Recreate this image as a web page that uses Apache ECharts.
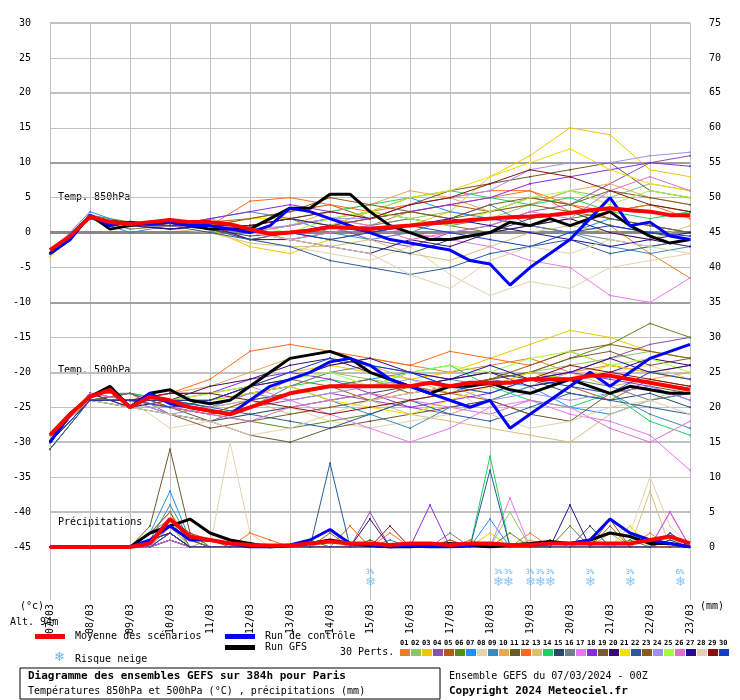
<!DOCTYPE html>
<html>
<head>
<meta charset="utf-8">
<script src="https://cdn.jsdelivr.net/npm/echarts@6/dist/echarts.min.js"></script>
<style>
html, body {margin: 0; padding: 0; background: #fff;}
#chart {width: 740px; height: 700px;}
</style>
</head>
<body>
<div id="chart"></div>
<script>
// dates on the time axis, one per 24h
const dates = ['07/03', '08/03', '09/03', '10/03', '11/03', '12/03', '13/03', '14/03', '15/03',
	'16/03', '17/03', '18/03', '19/03', '20/03', '21/03', '22/03', '23/03'];

const leftTicks = [30, 25, 20, 15, 10, 5, 0, -5, -10, -15, -20, -25, -30, -35, -40, -45];

// mean / control / GFS, every 12h
const mean850 = [-2.5, -0.5, 2.3, 1.5, 1.2, 1.5, 1.8, 1.5, 1.5, 1.2, 0.5, -0.2, 0, 0.3, 0.8, 0.7, 0.5,
	0.8, 1, 1.3, 1.5, 1.8, 2, 2.2, 2.3, 2.5, 2.8, 3.2, 3.5, 3.2, 3, 2.5, 2.5];
const ctrl850 = [-3, -1, 2.5, 1, 1.5, 1.2, 1.5, 1, 1, 0.5, 0, 1, 3.5, 3, 2, 1, 0,
	-1, -1.5, -2, -2.5, -4, -4.5, -7.5, -5, -3, -1, 2, 5, 1, 1.5, -0.5, -1];
const gfs850 = [-3, -1, 2.5, 0.5, 1, 1.5, 1.5, 1, 0.5, 0.5, 0.5, 2, 3.5, 3.5, 5.5, 5.5, 3,
	1, 0, -1, -1, -0.5, 0, 1.5, 1, 2, 1, 2, 3, 1, -0.5, -1.5, -1];

const mean500 = [-29, -26, -23.5, -22.5, -25, -23.5, -24, -25, -25.5, -26, -25, -24, -23, -22.5, -22, -22, -22,
	-22, -22, -21.5, -22, -21.5, -21.5, -21.5, -21, -21, -21, -20.5, -20.5, -21, -21.5, -22, -22.5];
const ctrl500 = [-30, -26, -23.5, -22.5, -25, -23, -24.5, -25, -25.5, -26, -24, -22, -21, -20, -18.5, -18, -19,
	-21, -22, -23, -24, -25, -24, -28, -26, -24, -22, -20, -22, -20, -18, -17, -16];
const gfs500 = [-30, -26, -23.5, -22, -25, -23, -22.5, -24, -24.5, -24, -22, -20, -18, -17.5, -17, -18, -20,
	-21, -22, -23, -22, -22, -21.5, -22.5, -23, -22, -21, -22, -23, -22, -22.5, -23, -23];

const meanPrec = [0, 0, 0, 0, 0, 0.5, 4, 1.5, 1, 0.5, 0.3, 0.2, 0.2, 0.5, 0.8, 0.5, 0.5,
	0.3, 0.5, 0.5, 0.3, 0.5, 0.5, 0.3, 0.3, 0.5, 0.5, 0.5, 0.5, 0.5, 1, 1.5, 0.5];
const ctrlPrec = [0, 0, 0, 0, 0, 1, 3, 1, 1, 0.5, 0, 0, 0.3, 1, 2.5, 0.5, 0.3,
	0, 0.2, 0, 0, 0.2, 0.5, 0.3, 0.2, 0.5, 0.5, 1, 4, 2, 1, 0.5, 0];
const gfsPrec = [0, 0, 0, 0, 0, 2, 3, 4, 2, 1, 0.5, 0, 0.2, 0.5, 1, 0.5, 0.2,
	0, 0, 0.3, 0.5, 0.3, 0, 0.3, 0.5, 0.8, 0.5, 1, 2, 1.5, 0.5, 0.5, 0];

// 30 perturbations, T850 and T500 every 24h
const pert850 = [
	[-3, 2.5, 1, 1.5, 1, 0, 1, 2, 1, 3, 4, 5, 6, 3, 1, -3, -6.5],
	[-3, 2, 1.5, 1, 2, 0.5, -1, 0, 1, 2, 3, 2, 4, 6, 5, 7, 6],
	[-3.5, 2, 0.5, 1, 0.5, -2, -3, -1, 0, 1, 3, 8, 11, 15, 14, 9, 8],
	[-3, 2.5, 1, 2, 1, 1, 2, 1, -1, -2, 0, 1, 3, 4, 7, 10, 11],
	[-3, 2, 1, 1, 1.5, 2, 3, 4, 2, 3, 4, 3, 5, 4, 2, 1, 0],
	[-3, 2.5, 1.5, 0.5, 1, 0, 1, 2, 3, 2, 1, 0, 1, 2, 3, 4, 3],
	[-3, 3, 1, 1, 0.5, -1, 0, 1, 3, 5, 3, 2, 1, 0, 2, 1, 0],
	[-3, 2, 1, 1.5, 1, -1, -2, -3, -4, -2, -6, -9, -7, -8, -5, -4, -3],
	[-3, 2, 0, 1, 2, 3, 2, 0, -1, 0, 2, 4, 1, 0, -2, -3, -2],
	[-3, 2.5, 1, 1.5, 1, 0, 1, 3, 4, 6, 5, 3, 4, 6, 7, 5, 4],
	[-3, 2, 1, 1, 0.5, -1, 0, 1, 2, 4, 6, 7, 8, 9, 10, 6, 5],
	[-3, 2, 1.5, 1, 1, 4.5, 5, 4, 3, 4, 5, 6, 6, 4, 3, 4, 2],
	[-3, 2, 1, 0.5, 0, -1.5, -2, -2, -1, -3, -4, -2, 0, 1, 0, -1, 1],
	[-3, 2.5, 1, 1, 1, 1, 2, 3, 4, 5, 6, 5, 4, 5, 3, 2, 3],
	[-3, 2, 1, 1.5, 0.5, -0.5, 0, -1, -2, -3, -1, 0, 2, 3, 1, 0, -1],
	[-3, 2, 0.5, 1, 1, 0, -1, 0, 1, 2, 1, 2, 1, 0, -1, -2, -1],
	[-3, 2.5, 1, 1, 1.5, 0, 1, 2, 1, 0, -1, -2, -4, -5, -9, -10, -6.5],
	[-3, 2, 1, 1, 2, 3, 4, 3, 2, 3, 4, 5, 7, 8, 9, 10, 9.5],
	[-3, 2, 1.5, 1, 1, 0, 0, 1, 2, 3, 2, 4, 5, 4, 6, 5, 4],
	[-3, 2, 1, 0.5, 1, -1, -1, -2, -3, -1, -2, 0, 1, 2, 0, -1, -2],
	[-3, 2, 1, 1, 1, 2, 2, 1, 3, 5, 6, 8, 10, 12, 9, 7, 6],
	[-3, 2.5, 1, 1, 0, -1, -2, -4, -5, -6, -5, -3, -2, -1, -3, -2, -1],
	[-3, 2, 1, 1.5, 1, 2, 3, 5, 4, 3, 2, 3, 4, 3, 2, 1, 0],
	[-3, 2, 1, 1, 1, 0.5, 1, 2, 2, 4, 5, 6, 9, 10, 10, 11, 11.5],
	[-3, 2.5, 1, 1, 1, 1, 0, 2, 3, 2, 1, 3, 5, 6, 4, 6, 5],
	[-3, 2, 1, 1, 0.5, 0, -1, 0, 1, -1, 0, 1, 3, 2, 6, 8, 6],
	[-3, 2, 1, 0.5, 1, 1, 2, 1, 0, 1, 2, 1, 0, -1, -2, -1, 0],
	[-3, 2, 1, 1, 1, 0, -1, -2, -3, -6, -8, -4, -2, -3, -1, -2, -3],
	[-3, 2, 1.5, 1, 1, 1, 2, 3, 2, 4, 5, 7, 9, 8, 6, 4, 3],
	[-3, 2, 1, 1, 1, 0, 0, -1, 0, 1, 0, -1, -2, 0, 1, 0, -0.5]
];
const pert500 = [
	[-30, -23, -24, -25, -26, -24, -21, -19, -18, -19, -20, -19, -18, -20, -19, -20, -19],
	[-30, -24, -25, -24, -25, -23, -22, -20, -21, -22, -23, -21, -20, -19, -18, -17, -18],
	[-31, -24, -24, -24, -23, -22, -20, -19, -20, -21, -20, -18, -16, -14, -15, -17, -18],
	[-30, -23, -23, -26, -27, -25, -24, -23, -24, -25, -26, -24, -22, -20, -18, -16, -15],
	[-30, -24, -23, -25, -24, -22, -21, -22, -24, -22, -23, -24, -26, -22, -24, -21, -22],
	[-29, -23, -25, -25, -26, -27, -28, -27, -26, -24, -23, -21, -20, -18, -16, -13, -15],
	[-30, -24, -24, -24, -25, -24, -23, -22, -21, -20, -22, -21, -22, -25, -26, -24, -23],
	[-30, -24, -24, -28, -27, -26, -25, -27, -28, -27, -26, -24, -22, -20, -20, -19, -21],
	[-31, -24, -23, -24, -25, -23, -22, -24, -26, -28, -25, -24, -22, -21, -23, -26, -28],
	[-30, -24, -24, -23, -22, -20, -18, -17, -19, -21, -23, -22, -21, -20, -22, -21, -20],
	[-30, -23, -24, -25, -27, -29, -30, -28, -27, -26, -25, -24, -26, -27, -23, -22, -23],
	[-29, -24, -24, -23, -21, -17, -16, -17, -18, -19, -17, -18, -19, -17, -19, -20, -21],
	[-30, -24, -25, -25, -25, -24, -26, -25, -24, -26, -27, -28, -29, -30, -26, -24, -22],
	[-30, -24, -23, -24, -24, -23, -22, -21, -22, -20, -19, -22, -24, -25, -23, -27, -29],
	[-30, -24, -25, -26, -27, -26, -25, -24, -23, -22, -21, -20, -21, -23, -24, -23, -25],
	[-31, -24, -24, -25, -26, -25, -22, -20, -19, -20, -21, -22, -20, -21, -22, -24, -23],
	[-30, -23, -24, -24, -23, -22, -24, -26, -28, -30, -28, -25, -24, -26, -27, -29, -34],
	[-30, -24, -24, -23, -23, -21, -20, -21, -23, -25, -24, -23, -21, -20, -21, -22, -24],
	[-30, -24, -24, -26, -28, -27, -26, -25, -24, -23, -22, -21, -20, -18, -17, -19, -18],
	[-30, -23, -25, -24, -22, -21, -19, -18, -20, -22, -21, -20, -22, -21, -20, -18, -19],
	[-30, -24, -24, -25, -24, -23, -22, -24, -25, -26, -24, -22, -20, -21, -19, -20, -21],
	[-31, -24, -24, -24, -25, -26, -27, -28, -26, -24, -26, -27, -25, -23, -24, -25, -26],
	[-30, -24, -23, -25, -26, -24, -23, -22, -21, -23, -22, -21, -19, -17, -16, -17, -18],
	[-30, -24, -24, -26, -25, -23, -24, -23, -22, -21, -22, -24, -23, -24, -23, -22, -24],
	[-30, -24, -24, -24, -23, -22, -21, -20, -22, -20, -19, -20, -18, -17, -19, -18, -20],
	[-30, -23, -24, -25, -26, -27, -25, -24, -23, -24, -25, -26, -24, -25, -28, -30, -27],
	[-30, -24, -24, -24, -24, -22, -21, -19, -18, -20, -21, -19, -21, -20, -18, -20, -19],
	[-30, -24, -25, -26, -27, -29, -28, -26, -24, -23, -22, -26, -28, -27, -25, -24, -26],
	[-30, -24, -24, -23, -23, -24, -25, -26, -25, -24, -23, -22, -21, -19, -20, -21, -22],
	[-30, -24, -24, -25, -24, -22, -20, -18, -19, -20, -22, -23, -21, -22, -23, -20, -21]
];
// precipitation (mm) every 12h
const pertPrec = [
	[0, 0, 0, 0, 0, 1, 3, 1, 0, 0, 0, 0, 0, 0, 1, 0, 0, 2, 0, 0, 0, 1, 0, 0, 2, 0, 0, 1, 0, 0, 2, 0, 0],
	[0, 0, 0, 0, 0, 0, 2, 0, 1, 0, 0, 0, 0, 0, 0, 3, 0, 0, 0, 0, 1, 0, 0, 5, 0, 0, 0, 0, 2, 0, 0, 1, 0],
	[0, 0, 0, 0, 0, 2, 5, 1, 0, 0, 0, 0, 0, 1, 0, 0, 0, 0, 0, 0, 0, 0, 2, 0, 0, 0, 0, 1, 0, 3, 0, 0, 0],
	[0, 0, 0, 0, 0, 0, 1, 0, 0, 0, 0, 0, 0, 0, 0, 0, 5, 0, 0, 0, 0, 0, 0, 0, 0, 0, 0, 0, 0, 0, 0, 2, 0],
	[0, 0, 0, 0, 0, 1, 4, 2, 1, 0, 0, 0, 0, 0, 2, 0, 0, 0, 0, 0, 1, 0, 0, 0, 0, 1, 0, 0, 3, 0, 0, 0, 0],
	[0, 0, 0, 0, 0, 0, 3, 0, 0, 0, 0, 0, 0, 1, 0, 0, 0, 0, 0, 0, 0, 0, 0, 2, 0, 0, 3, 0, 0, 1, 0, 0, 0],
	[0, 0, 0, 0, 0, 2, 8, 1, 0, 0, 0, 0, 0, 0, 0, 0, 0, 0, 0, 0, 0, 0, 4, 0, 0, 0, 0, 0, 0, 0, 0, 0, 0],
	[0, 0, 0, 0, 0, 0, 2, 0, 0, 15, 2, 0, 0, 0, 0, 0, 0, 0, 0, 0, 0, 0, 0, 0, 0, 0, 0, 0, 0, 2, 10, 3, 0],
	[0, 0, 0, 0, 0, 1, 6, 1, 0, 0, 0, 0, 0, 0, 0, 0, 0, 1, 0, 0, 0, 0, 0, 0, 0, 0, 0, 0, 0, 0, 0, 0, 0],
	[0, 0, 0, 0, 0, 0, 2, 0, 0, 0, 0, 0, 0, 0, 0, 0, 0, 0, 0, 0, 0, 0, 0, 0, 1, 0, 0, 0, 0, 0, 0, 0, 0],
	[0, 0, 0, 0, 0, 3, 14, 2, 0, 0, 0, 0, 0, 0, 0, 0, 1, 0, 0, 0, 0, 0, 0, 0, 0, 0, 0, 0, 0, 0, 0, 0, 0],
	[0, 0, 0, 0, 0, 1, 3, 0, 0, 0, 2, 1, 0, 0, 0, 3, 0, 0, 0, 0, 0, 0, 0, 0, 0, 0, 0, 0, 0, 0, 0, 0, 0],
	[0, 0, 0, 0, 0, 0, 2, 0, 0, 0, 0, 0, 0, 0, 0, 0, 0, 0, 0, 0, 0, 0, 0, 0, 0, 0, 0, 0, 0, 0, 8, 0, 0],
	[0, 0, 0, 0, 0, 1, 3, 1, 0, 0, 0, 0, 0, 0, 0, 0, 0, 0, 0, 0, 0, 0, 13, 0, 0, 0, 0, 0, 0, 0, 0, 0, 0],
	[0, 0, 0, 0, 0, 0, 1, 0, 0, 0, 0, 0, 0, 0, 0, 0, 0, 0, 0, 0, 0, 0, 0, 0, 0, 0, 0, 3, 0, 0, 0, 1, 0],
	[0, 0, 0, 0, 0, 2, 4, 0, 0, 0, 0, 0, 0, 0, 0, 0, 0, 0, 0, 0, 2, 0, 0, 0, 0, 0, 0, 0, 0, 0, 0, 0, 0],
	[0, 0, 0, 0, 0, 1, 2, 0, 0, 0, 0, 0, 0, 0, 0, 0, 0, 0, 0, 0, 0, 0, 0, 7, 0, 0, 0, 0, 0, 0, 0, 0, 0],
	[0, 0, 0, 0, 0, 0, 3, 0, 0, 0, 0, 0, 0, 0, 0, 0, 0, 0, 0, 6, 0, 0, 0, 0, 0, 0, 0, 0, 0, 0, 0, 5, 0],
	[0, 0, 0, 0, 0, 2, 5, 0, 0, 0, 0, 0, 0, 0, 0, 0, 0, 0, 0, 0, 0, 0, 0, 0, 0, 0, 0, 0, 0, 0, 0, 0, 0],
	[0, 0, 0, 0, 0, 0, 1, 0, 0, 0, 0, 0, 0, 0, 0, 0, 4, 0, 0, 0, 0, 0, 0, 0, 0, 0, 0, 0, 0, 0, 0, 0, 0],
	[0, 0, 0, 0, 0, 1, 3, 0, 0, 0, 0, 0, 0, 0, 0, 0, 0, 0, 0, 0, 0, 0, 0, 0, 0, 0, 0, 0, 0, 0, 0, 0, 0],
	[0, 0, 0, 0, 0, 0, 2, 0, 0, 0, 0, 0, 0, 0, 12, 0, 0, 0, 0, 0, 0, 0, 11, 0, 0, 0, 0, 0, 0, 0, 0, 0, 0],
	[0, 0, 0, 0, 0, 1, 4, 1, 0, 0, 0, 0, 0, 0, 0, 0, 0, 0, 0, 0, 0, 0, 0, 0, 0, 0, 0, 0, 4, 0, 0, 0, 0],
	[0, 0, 0, 0, 0, 0, 2, 0, 0, 0, 0, 0, 0, 0, 0, 0, 0, 0, 0, 0, 0, 0, 0, 0, 0, 0, 0, 0, 0, 0, 0, 0, 0],
	[0, 0, 0, 0, 0, 1, 3, 0, 0, 0, 0, 0, 0, 0, 0, 0, 0, 0, 0, 0, 0, 0, 0, 0, 0, 0, 0, 0, 0, 0, 0, 0, 0],
	[0, 0, 0, 0, 0, 0, 1, 0, 0, 0, 0, 0, 0, 0, 0, 0, 0, 0, 0, 0, 0, 0, 0, 0, 0, 0, 0, 0, 0, 0, 0, 5, 0],
	[0, 0, 0, 0, 0, 1, 2, 0, 0, 0, 0, 0, 0, 0, 0, 0, 0, 0, 0, 0, 0, 0, 0, 0, 0, 0, 6, 0, 0, 0, 0, 0, 0],
	[0, 0, 0, 0, 0, 0, 3, 0, 0, 0, 0, 0, 0, 0, 0, 0, 0, 0, 0, 0, 0, 0, 0, 0, 0, 0, 0, 0, 0, 0, 0, 0, 0],
	[0, 0, 0, 0, 0, 1, 2, 0, 0, 0, 0, 0, 0, 0, 0, 0, 0, 3, 0, 0, 0, 0, 0, 0, 0, 0, 0, 0, 0, 0, 0, 0, 0],
	[0, 0, 0, 0, 0, 0, 2, 0, 0, 0, 0, 0, 0, 0, 0, 0, 0, 0, 0, 0, 0, 0, 0, 0, 0, 0, 0, 0, 0, 0, 0, 2, 0]
];
const pertColors = ['#e87d2e', '#8dc46a', '#f0c800', '#8a4fa8', '#b35a1a', '#5a8a1a', '#1e90ff', '#e8d2a8',
	'#3a8ab8', '#e8a858', '#6a5a2a', '#ff6a1a', '#d8c078', '#20d060', '#284a68', '#708090', '#e878f0',
	'#8a2be2', '#7a5a30', '#3a0a70', '#f0e000', '#2a5a9a', '#8a5a20', '#a090f0', '#a0ff40', '#e070d0',
	'#2a0a90', '#e0d0b0', '#8a1010', '#1040c0'];

// snow risk: hour, percent
const snowHours = [192, 269, 275, 288, 294, 300, 324, 348, 378];
const snowPct = [3, 3, 3, 3, 3, 3, 3, 3, 6];

const font = 'DejaVu Sans Mono';
const every = (arr, step) => arr.map((v, i) => [i * step, v]);

function line(name, data, color, width, yAxisIndex, z, symbol)
{
	return {name, type: 'line', data, yAxisIndex, z,
		symbol: symbol ? 'circle' : 'none', symbolSize: 2,
		lineStyle: {color, width}, itemStyle: {color},
		silent: true, animation: false};
}

let series = [];
pertColors.forEach((c, i) =>
{
	series.push(line('p850_' + i, every(pert850[i], 24), c, 1, 0, 2, true));
	series.push(line('p500_' + i, every(pert500[i], 24), c, 1, 0, 2, true));
	series.push(line('pr_' + i, every(pertPrec[i], 12), c, 1, 1, 2, true));
});
[[gfs850, gfs500, gfsPrec, '#000', 3], [ctrl850, ctrl500, ctrlPrec, '#0000ff', 3], [mean850, mean500, meanPrec, '#ff0000', 4]]
	.forEach(([a, b, p, c, w], k) =>
	{
		series.push(line('m850_' + k, every(a, 12), c, w, 0, 5 + k));
		series.push(line('m500_' + k, every(b, 12), c, w, 0, 5 + k));
		series.push(line('mp_' + k, every(p, 12), c, w, 1, 5 + k));
	});
// heavier lines every 10 degrees, darker around 0
series[0].markLine = {silent: true, symbol: 'none', label: {show: false}, z: 1,
	data: [30, 20, -20, -30, -40].map(v => ({yAxis: v, lineStyle: {color: '#c0c0c0', width: 2, type: 'solid'}}))
		.concat([{yAxis: 0, lineStyle: {color: '#888', width: 3, type: 'solid'}},
			{yAxis: 10, lineStyle: {color: '#a0a0a0', width: 2, type: 'solid'}},
			{yAxis: -10, lineStyle: {color: '#a0a0a0', width: 2, type: 'solid'}}])};
series.push({type: 'scatter', xAxisIndex: 1, yAxisIndex: 2, symbolSize: 0, silent: true,
	data: snowHours.map((h, i) => [h, 0.4, snowPct[i]]),
	label: {show: true, position: 'inside', formatter: p => '{p|' + p.value[2] + '%}\n{s|❄}',
		rich: {p: {fontSize: 7, color: '#4aa0e0', fontFamily: font}, s: {fontSize: 13, color: '#6ab8f0'}}}});

const txt = (x, y, text, opts = {}) => ({type: 'text', left: x, top: y,
	style: Object.assign({text, font: '10px "' + font + '"', fill: '#000'}, opts)});

let graphic = [
	txt(58, 192, 'Temp. 850hPa'), txt(58, 365, 'Temp. 500hPa'), txt(58, 517, 'Précipitations'),
	txt(20, 601, '(°c)'), txt(700, 601, '(mm)'), txt(10, 617, 'Alt. 94m'),
	{type: 'rect', shape: {x: 35, y: 634, width: 30, height: 5}, style: {fill: '#ff0000'}},
	txt(75, 631, 'Moyenne des scénarios'),
	{type: 'rect', shape: {x: 225, y: 634, width: 30, height: 5}, style: {fill: '#0000ff'}},
	txt(265, 631, 'Run de contrôle'),
	{type: 'rect', shape: {x: 225, y: 645, width: 30, height: 5}, style: {fill: '#000'}},
	txt(265, 642, 'Run GFS'),
	txt(54, 651, '❄', {fill: '#6ab8f0', font: '13px sans-serif'}), txt(75, 654, 'Risque neige'),
	txt(340, 647, '30 Perts.'),
	{type: 'rect', shape: {x: 20, y: 668, width: 420, height: 31}, style: {fill: 'none', stroke: '#000', lineWidth: 1}},
	txt(28, 671, 'Diagramme des ensembles GEFS sur 384h pour Paris', {font: 'bold 11px "' + font + '"'}),
	txt(28, 686, 'Températures 850hPa et 500hPa (°C) , précipitations (mm)'),
	txt(449, 671, 'Ensemble GEFS du 07/03/2024 - 00Z'),
	txt(449, 686, 'Copyright 2024 Meteociel.fr', {font: 'bold 11px "' + font + '"'})
];
pertColors.forEach((c, i) =>
{
	graphic.push({type: 'rect', shape: {x: 400 + i * 11, y: 649, width: 10, height: 7}, style: {fill: c}});
	graphic.push(txt(400 + i * 11, 640, String(i + 1).padStart(2, '0'), {font: 'bold 7px "' + font + '"'}));
});

const split = {show: true, lineStyle: {color: '#c0c0c0', width: 1}};
const chart = echarts.init(document.getElementById('chart'));
chart.setOption({
	animation: false,
	backgroundColor: '#fff',
	grid: [{left: 50, right: 50, top: 23, height: 524}, {left: 50, right: 50, top: 547, height: 53}],
	xAxis: [
		{type: 'value', gridIndex: 0, min: 0, max: 384, interval: 24, splitLine: split,
			axisLine: {show: false}, axisTick: {show: false}, axisLabel: {show: false}},
		{type: 'value', gridIndex: 1, min: 0, max: 384, interval: 24, splitLine: split,
			axisLine: {show: false}, axisTick: {show: false},
			axisLabel: {rotate: 90, fontFamily: font, fontSize: 10, color: '#000', margin: 4,
				formatter: v => dates[v / 24]}}
	],
	yAxis: [
		{type: 'value', gridIndex: 0, min: -45, max: 30, interval: 5, splitLine: split,
			axisLine: {show: false}, axisTick: {show: false},
			axisLabel: {fontFamily: font, fontSize: 10, color: '#000', margin: 19,
				formatter: v => leftTicks.includes(v) ? String(v) : ''}},
		{type: 'value', gridIndex: 0, min: 0, max: 75, interval: 5, position: 'right', splitLine: {show: false},
			axisLine: {show: false}, axisTick: {show: false},
			axisLabel: {fontFamily: font, fontSize: 10, color: '#000', margin: 19}},
		{type: 'value', gridIndex: 1, min: 0, max: 1, show: false}
	],
	series,
	graphic
});
</script>
</body>
</html>
